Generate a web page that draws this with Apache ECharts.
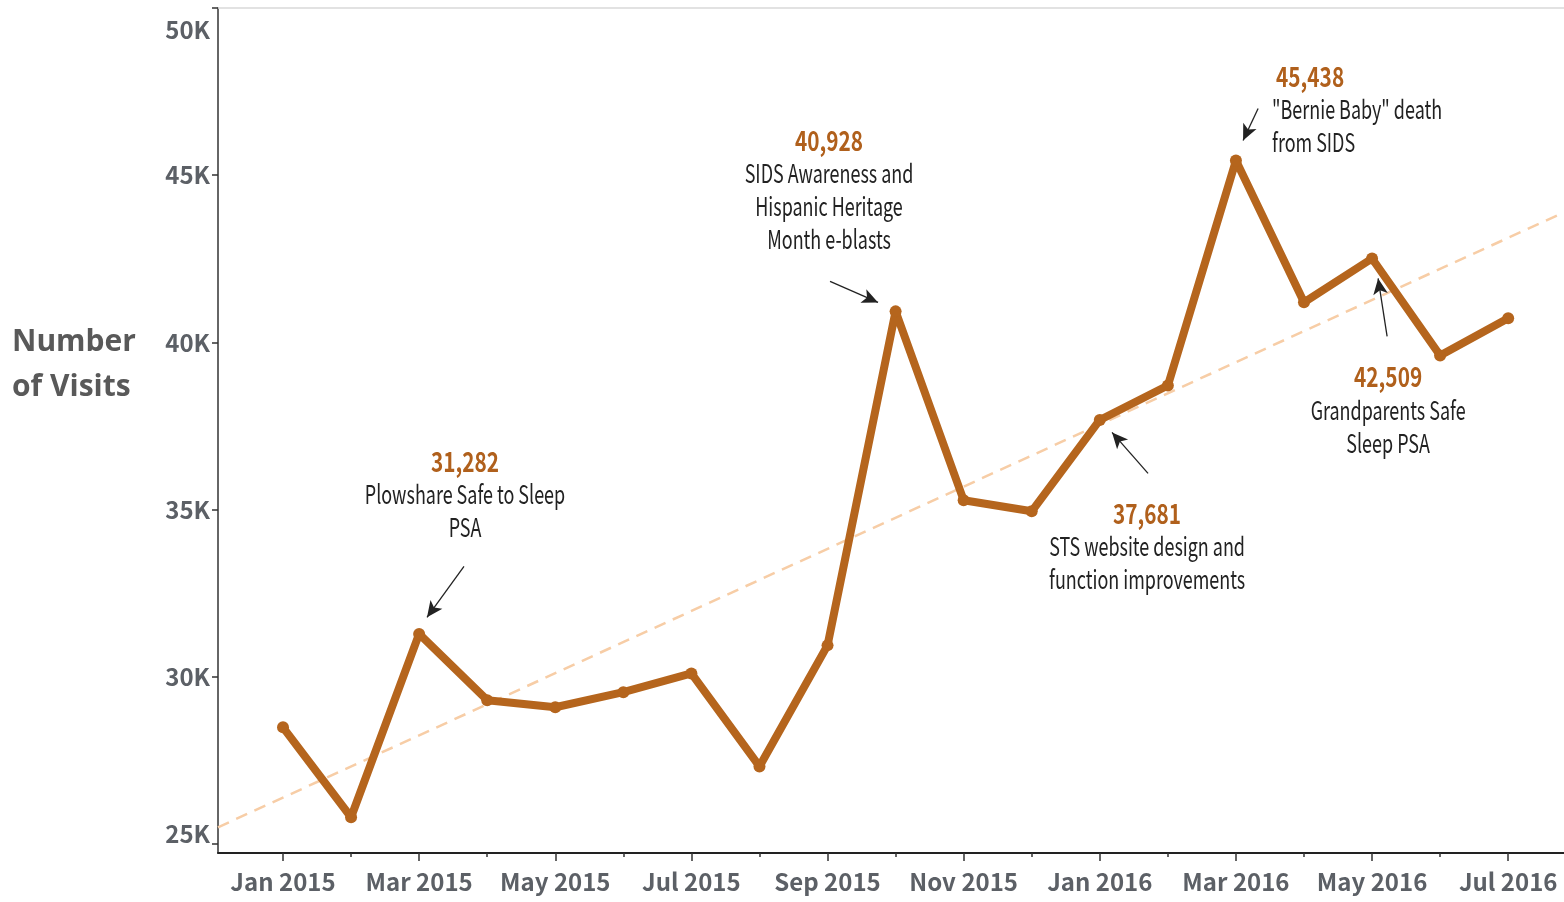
<!DOCTYPE html>
<html>
<head>
<meta charset="utf-8">
<script src="https://cdn.jsdelivr.net/npm/echarts@6/dist/echarts.min.js"></script>
<style>
  html, body { margin: 0; padding: 0; background: #fff; }
  #chart { width: 1564px; height: 902px; }
</style>
</head>
<body>
<div id="chart"></div>
<script>
// monthly visits, Jan 2015 .. Jul 2016
var months = ['Jan 2015','Feb 2015','Mar 2015','Apr 2015','May 2015','Jun 2015','Jul 2015','Aug 2015','Sep 2015',
  'Oct 2015','Nov 2015','Dec 2015','Jan 2016','Feb 2016','Mar 2016','Apr 2016','May 2016','Jun 2016','Jul 2016'];
var visits = [28490, 25800, 31282, 29300, 29090, 29540, 30100, 27320, 30940,
  40928, 35280, 34950, 37681, 38710, 45438, 41200, 42509, 39610, 40720];
// dashed trend line, read at the left and right edge of the plot
var trendEnds = [25500, 43890];
var yTicks = [25000, 30000, 35000, 40000, 45000, 50000];

// callouts: month index, value and note
var noteMonth = [2, 9, 12, 14, 16];
var noteText = [
  'Plowshare Safe to Sleep\nPSA',
  'SIDS Awareness and\nHispanic Heritage\nMonth e-blasts',
  'STS website design and\nfunction improvements',
  '"Bernie Baby" death\nfrom SIDS',
  'Grandparents Safe\nSleep PSA'
];

var xMin = -0.955, xMax = 18.82, yMin = 24731, yMax = 50000;
var brown = '#b5651d';
var cond = '"Noto Sans CJK SC", "Liberation Sans", sans-serif';

// layout of callouts (data coords): text block centre, arrow from, arrow to
var noteLayout = [
  { at: [2.674, 35456], align: 'center', from: [2.659, 33303], to: [2.116, 31779] },
  { at: [8.022, 44559], align: 'center', from: [8.037, 41824], to: [8.742, 41196] },
  { at: [12.695, 33901], align: 'center', from: [12.709, 36084], to: [12.180, 37309] },
  { at: [14.531, 46966], align: 'left', from: [14.326, 46996], to: [14.105, 46039] },
  { at: [16.236, 37976], align: 'center', from: [16.221, 40179], to: [16.089, 41913] }
];

function fmt(v) { return v.toString().replace(/\B(?=(\d{3})+(?!\d))/g, ','); }

var lineData = visits.map(function (v, i) { return [i, v]; });

var arrows = noteLayout.map(function (L) {
  return [{ coord: L.from }, { coord: L.to }];
});

var chart = echarts.init(document.getElementById('chart'));
chart.setOption({
  animation: false,
  title: {
    text: 'Number\nof Visits',
    left: 7, top: 315,
    textStyle: { fontFamily: '"Open Sans", sans-serif', fontSize: 30, fontWeight: 'bold', color: '#595959', lineHeight: 45 }
  },
  grid: { left: 218, right: 0, top: 8, bottom: 49 },
  xAxis: [{
    type: 'value', min: xMin, max: xMax,
    axisLine: { show: true, lineStyle: { color: '#222', width: 2 } },
    axisTick: { show: true, length: 8, customValues: [0, 2, 4, 6, 8, 10, 12, 14, 16, 18], lineStyle: { color: '#333', width: 1.5 } },
    axisLabel: {
      customValues: [0, 2, 4, 6, 8, 10, 12, 14, 16, 18],
      formatter: function (v) { return months[Math.round(v)] || ''; },
      fontFamily: cond, fontSize: 24, fontWeight: 'bold', color: '#5c6066', margin: 17
    },
    splitLine: { show: false }
  }, {
    type: 'value', min: xMin, max: xMax, position: 'bottom',
    axisLine: { show: false },
    axisTick: { show: true, length: 4, customValues: [1, 3, 5, 7, 9, 11, 13, 15, 17], lineStyle: { color: '#333', width: 1.5 } },
    axisLabel: { show: false },
    splitLine: { show: false }
  }],
  yAxis: {
    type: 'value', min: yMin, max: yMax,
    axisLine: { show: true, onZero: false, lineStyle: { color: '#333', width: 1.5 } },
    axisTick: { show: true, length: 6, customValues: yTicks, lineStyle: { color: '#333', width: 1.5 } },
    axisLabel: {
      customValues: yTicks,
      margin: 8,
      fontFamily: cond, fontSize: 24, fontWeight: 'bold', color: '#5c6066',
      formatter: function (v) {
        var s = (v / 1000) + 'K';
        if (v === 50000) return '{top|' + s + '}';
        if (v === 25000) return '{bot|' + s + '}';
        return s;
      },
      rich: {
        top: { fontFamily: cond, fontSize: 24, fontWeight: 'bold', color: '#5c6066', padding: [44, 0, 0, 0] },
        bot: { fontFamily: cond, fontSize: 24, fontWeight: 'bold', color: '#5c6066', padding: [0, 0, 20, 0] }
      }
    },
    splitLine: { show: false }
  },
  series: [{
    type: 'line',
    name: 'trend',
    data: [[xMin, trendEnds[0]], [xMax, trendEnds[1]]],
    symbol: 'none',
    lineStyle: { color: '#f7cda6', width: 2.5, type: [12, 8] },
    silent: true,
    z: 1,
    markLine: {
      silent: true,
      symbol: 'none',
      label: { show: false },
      lineStyle: { color: '#d9d9d9', width: 1.5, type: 'solid' },
      data: [{ yAxis: yMax }]
    }
  }, {
    type: 'line',
    name: 'Visits',
    data: lineData,
    symbol: 'circle',
    symbolSize: 12,
    itemStyle: { color: brown },
    lineStyle: { color: brown, width: 8 },
    z: 3,
    markLine: {
      silent: true,
      symbol: ['none', 'arrow'],
      symbolSize: [11, 16],
      label: { show: false },
      lineStyle: { color: '#222', width: 1.3, type: 'solid' },
      data: arrows
    }
  }]
});

// callout texts, condensed like the original
var lineH = 33;
var graphics = noteMonth.map(function (m, k) {
  var L = noteLayout[k];
  var p = chart.convertToPixel({ seriesIndex: 1 }, L.at);
  var lines = [fmt(visits[m])].concat(noteText[k].split('\n'));
  var n = lines.length;
  return {
    type: 'group',
    x: p[0], y: p[1],
    children: lines.map(function (s, i) {
      var isVal = i === 0;
      return {
        type: 'text',
        x: isVal && L.align === 'left' ? 4 : 0,
        y: (i - (n - 1) / 2) * lineH,
        scaleX: isVal ? 0.77 : 0.69,
        style: {
          text: s,
          fontFamily: cond,
          fontSize: isVal ? 27 : 26,
          fontWeight: isVal ? 'bold' : 'normal',
          fill: isVal ? '#b0601c' : '#222',
          align: L.align,
          verticalAlign: 'middle'
        }
      };
    })
  };
});
chart.setOption({ graphic: graphics });
</script>
</body>
</html>
